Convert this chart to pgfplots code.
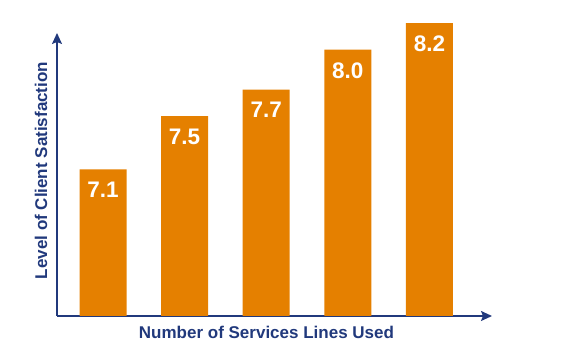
\documentclass[border=0pt]{standalone}
\usepackage{pgfplots}
\pgfplotsset{compat=1.18}
\usepackage{fontspec}
\setmainfont{Liberation Sans}
\usetikzlibrary{arrows.meta}
\definecolor{barorange}{HTML}{E58000}
\definecolor{navy}{HTML}{21397C}
\begin{document}
\begin{tikzpicture}
\path[use as bounding box] (0,0) rectangle (563pt,363pt);
\begin{axis}[
  at={(57pt,47pt)}, anchor=south west,
  scale only axis, width=435pt, height=283pt,
  xmin=-0.564, xmax=4.767,
  ymin=6, ymax=8.125,
  clip=false,
  axis lines=left,
  axis line style={navy, line width=1.5pt, -{Stealth[length=11pt,width=10pt,inset=2pt]}},
  xtick=\empty, ytick=\empty,
  ybar, bar width=47pt,
  xlabel={\bfseries Number of Services Lines Used},
  ylabel={\bfseries Level of Client Satisfaction},
  label style={font=\fontsize{17}{20}\selectfont, text=navy},
  xlabel style={at={(axis description cs:0.4816,-0.059)}, anchor=center},
  ylabel style={at={(axis description cs:-0.0368,0.514)}, anchor=center, rotate=0},
  nodes near coords,
  nodes near coords style={font=\fontsize{22.5}{24}\bfseries\selectfont, text=white, anchor=north, inner sep=0pt, yshift=-12.5pt,
    /pgf/number format/.cd, fixed, fixed zerofill, precision=1},
  /pgf/number format/assume math mode=true,
]
\addplot[fill=barorange, draw=none] coordinates {(0,7.1) (1,7.5) (2,7.7) (3,8.0) (4,8.2)};
\end{axis}
\end{tikzpicture}
\end{document}
